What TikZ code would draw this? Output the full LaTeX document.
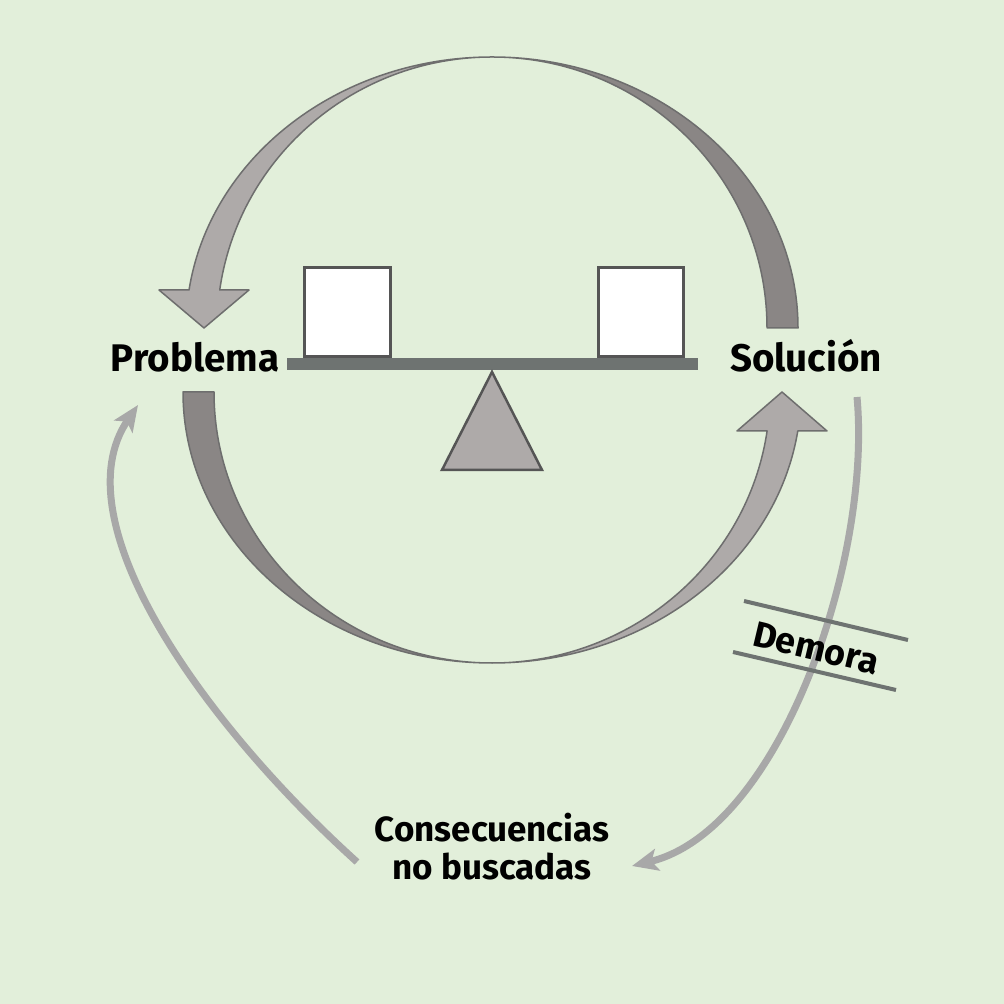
\documentclass[tikz,border=0pt]{standalone}
\usepackage{fontspec}
\setmainfont{Fira Sans}
\usetikzlibrary{arrows.meta}

\definecolor{bg}{RGB}{226,239,218}
\definecolor{beam}{RGB}{110,115,113}
\definecolor{front}{RGB}{174,170,169}
\definecolor{back}{RGB}{138,134,133}
\definecolor{rim}{RGB}{110,110,110}
\definecolor{thin}{RGB}{168,168,168}
\definecolor{edge}{RGB}{85,85,85}

\begin{document}
\begin{tikzpicture}[ x=1pt , y=1pt ,
  word/.style={font=\bfseries\fontsize{36}{38}\selectfont, inner sep=0pt},
  bigword/.style={word, font=\bfseries\fontsize{38.5}{40}\selectfont},
  band/.style={draw=rim, line width=1.5pt, line join=round},
  weight/.style={fill=white, draw=edge, line width=2.5pt},
  loopline/.style={draw=thin, line width=7pt, -{Stealth[length=26pt,width=22pt,inset=6pt]}},
  delay/.style={draw=beam, line width=4pt} ]
\fill [bg] (0,0) rectangle (1004,1004);

% upper turn: Solucion back to Problema
\filldraw [band, fill=back] (798,676) arc [start angle=0, end angle=90, x radius=306, y radius=271]
  arc [start angle=90, end angle=0, x radius=275, y radius=271] -- cycle;
\filldraw [band, fill=front] (492,947) arc [start angle=90, end angle=171.94, x radius=306, y radius=271]
  -- (159,714) -- (204,676) -- (249,714)
  -- ([shift={(492,676)}]171.94:275 and 271) arc [start angle=171.94, end angle=90, x radius=275, y radius=271] -- cycle;

% lower turn: Problema to Solucion
\filldraw [band, fill=back] (183,612) arc [start angle=180, end angle=270, x radius=309, y radius=271]
  arc [start angle=270, end angle=180, x radius=278, y radius=271] -- cycle;
\filldraw [band, fill=front] (492,341) arc [start angle=270, end angle=351.73, x radius=309, y radius=271]
  -- (827,573) -- (782,612) -- (737,573)
  -- ([shift={(492,612)}]351.73:278 and 271) arc [start angle=351.73, end angle=270, x radius=278, y radius=271] -- cycle;

% balance
\fill [beam] (287,634) rectangle (698,646);
\node [weight, minimum width=86pt, minimum height=89pt, anchor=south west] (lbox) at (303,646) {};
\node [weight, minimum width=85pt, minimum height=89pt, anchor=south west] (rbox) at (597,646) {};
\filldraw [fill=front, draw=edge, line width=2.5pt] (492,632) -- (542,534) -- (442,534) -- cycle;

\node [bigword, anchor=base] (prob) at (195,632) {Problema};
\node [bigword, anchor=base] (sol) at (806,632) {Solución};
\node [word, font=\bfseries\fontsize{35}{38}\selectfont, align=center] (cons) at (492,157) {Consecuencias\\no buscadas};

\coordinate (solout) at (857,607);
\coordinate (consin) at (632,138);
\coordinate (consout) at (357,142);
\coordinate (probin) at (138,599);
\draw [loopline] (solout) .. controls (872,444) and (780,174) .. (consin);
\draw [loopline] (consout) .. controls (200,284) and (60,484) .. (probin);

\draw [delay] (744,403) -- (908,364);
\draw [delay] (733,352) -- (896,314);
\node [word, rotate=-13.4] (demora) at (816,356) {Demora};
\end{tikzpicture}
\end{document}
